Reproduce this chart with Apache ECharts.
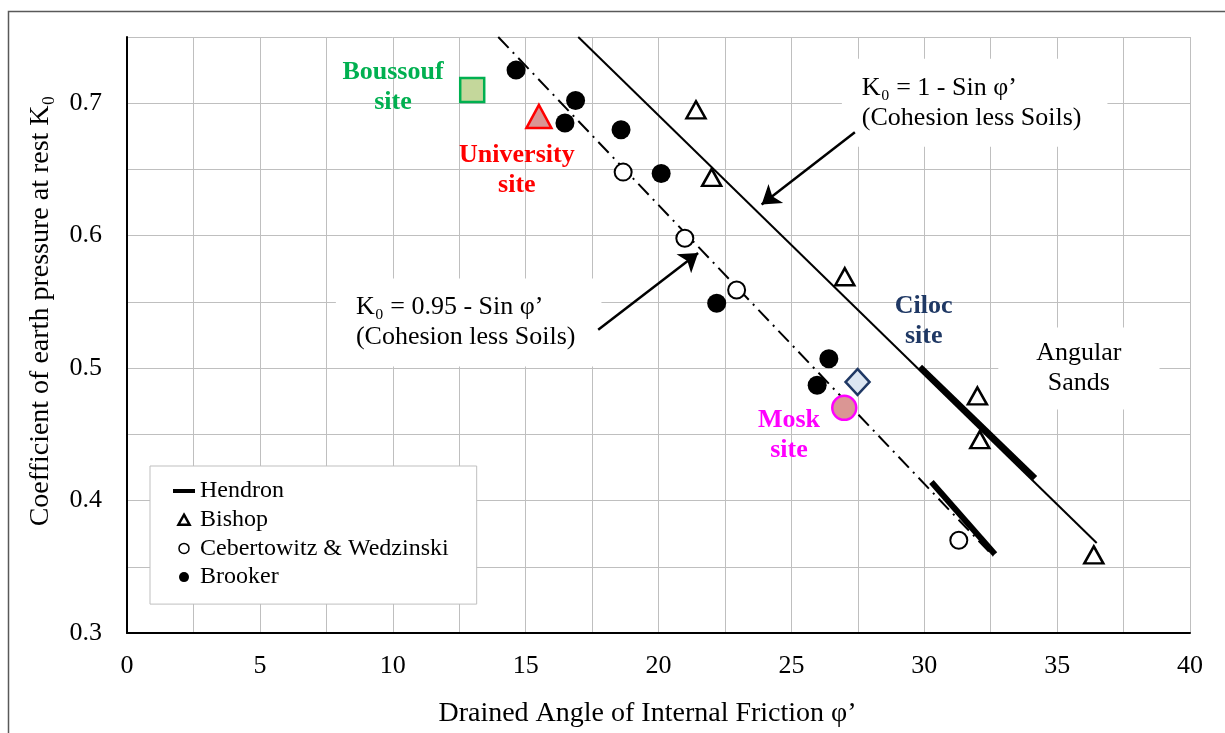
<!DOCTYPE html>
<html>
<head>
<meta charset="utf-8">
<script src="https://cdn.jsdelivr.net/npm/echarts@6/dist/echarts.min.js"></script>
<style>
  html, body { margin: 0; padding: 0; background: #fff; }
  #chart { width: 1225px; height: 733px; }
</style>
</head>
<body>
<div id="chart"></div>
<script>
// ---- Data (phi in degrees, K0) ----
const bishop = [[21.41, 0.695], [22.0, 0.644], [27.01, 0.569], [32.0, 0.479], [32.09, 0.446], [36.38, 0.359]];
const cebertowitz = [[18.67, 0.648], [20.99, 0.598], [22.94, 0.559], [31.30, 0.370]];
const brooker = [[14.64, 0.725], [16.88, 0.702], [16.48, 0.685], [18.59, 0.680], [20.10, 0.647], [22.19, 0.549], [26.41, 0.507], [25.97, 0.487]];
const hendronA = [[29.84, 0.501], [34.17, 0.417]];
const hendronB = [[30.27, 0.414], [32.66, 0.3595]];
const lineK1 = [[16.98, 0.75], [36.49, 0.368]];      // K0 = 1 - sin phi'
const lineK095 = [[13.97, 0.75], [32.6, 0.358]];     // K0 = 0.95 - sin phi'
const siteBoussouf = [[12.99, 0.710]];
const siteUniversity = [[15.5, 0.690]];
const siteCiloc = [[27.49, 0.4895]];
const siteMosk = [[26.99, 0.470]];
const arrowK1 = [[27.39, 0.678], [23.88, 0.6235]];
const arrowK095 = [[17.73, 0.529], [21.49, 0.587]];
// annotation anchors (data coords) and texts
const siteLabels = [
  { name: 'Boussouf\nsite', value: [10.01, 0.7117], color: '#00B050' },
  { name: 'University\nsite', value: [14.67, 0.649], color: '#FF0000' },
  { name: 'Ciloc\nsite', value: [29.98, 0.5353], color: '#1F3864' },
  { name: 'Mosk\nsite', value: [24.91, 0.4493], color: '#FF00FF' }
];
const boxLabels = [
  { name: 'K₀ = 1 - Sin φ’\n(Cohesion less Soils)', value: [26.90, 0.7004] },
  { name: 'K₀ = 0.95 - Sin φ’\n(Cohesion less Soils)', value: [7.86, 0.5345] }
];
const angularLabel = [{ name: 'Angular\nSands', value: [35.82, 0.4998] }];
const xTicks = [0, 5, 10, 15, 20, 25, 30, 35, 40];
const yTicks = [0.3, 0.4, 0.5, 0.6, 0.7];

const FONT = '"Liberation Serif", "Times New Roman", serif';

const chart = echarts.init(document.getElementById('chart'), null, { renderer: 'canvas' });

const option = {
  backgroundColor: '#fff',
  animation: false,
  textStyle: { fontFamily: FONT, color: '#000' },
  graphic: [{
    type: 'rect', left: 6, top: 9, z: 100, silent: true,
    shape: { width: 1240, height: 740 },
    style: { fill: 'none', stroke: '#595959', lineWidth: 1.5 }
  }],
  grid: { left: 127, right: 35, top: 37, bottom: 99, show: false },
  legend: {
    orient: 'vertical',
    left: 150, top: 466,
    backgroundColor: '#fff',
    borderColor: '#BFBFBF', borderWidth: 1,
    padding: [13, 28, 15, 23],
    itemWidth: 22, itemHeight: 10, itemGap: 4.7,
    textStyle: { fontFamily: FONT, fontSize: 24, color: '#000' },
    data: [
      { name: 'Hendron', icon: 'path://M0,0 L22,0 L22,4 L0,4 Z' },
      { name: 'Bishop', icon: 'path://M5,0 L10,9 L0,9 Z', itemStyle: { borderWidth: 2.5 } },
      { name: 'Cebertowitz & Wedzinski', icon: 'circle', itemStyle: { borderWidth: 1.5 } },
      { name: 'Brooker', icon: 'circle' }
    ],
    z: 20
  },
  xAxis: {
    type: 'value', min: 0, max: 40, interval: 2.5,
    name: 'Drained Angle of Internal Friction φ’',
    nameLocation: 'middle', nameGap: 67,
    nameTextStyle: { fontFamily: FONT, fontSize: 28, color: '#000', padding: [0, 22, 0, 0] },
    axisLine: { show: true, onZero: false, lineStyle: { color: '#000', width: 2 } },
    axisTick: { show: false },
    axisLabel: {
      fontFamily: FONT, fontSize: 26, color: '#000', margin: 20,
      formatter: v => (xTicks.indexOf(v) >= 0 ? String(v) : '')
    },
    splitLine: { show: true, lineStyle: { color: '#BFBFBF', width: 1 } }
  },
  yAxis: {
    type: 'value', min: 0.3, max: 0.75, interval: 0.05,
    name: 'Coefficient of earth pressure at rest K₀',
    nameLocation: 'middle', nameGap: 72,
    nameTextStyle: { fontFamily: FONT, fontSize: 28, color: '#000', padding: [0, 0, 0, 48] },
    axisLine: { show: true, onZero: false, lineStyle: { color: '#000', width: 2 } },
    axisTick: { show: false },
    axisLabel: {
      fontFamily: FONT, fontSize: 26, color: '#000', margin: 25,
      formatter: v => (yTicks.some(t => Math.abs(t - v) < 1e-6) ? v.toFixed(1) : '')
    },
    splitLine: { show: true, lineStyle: { color: '#BFBFBF', width: 1 } }
  },
  series: [
    {
      name: 'K1', type: 'line', data: lineK1, symbol: 'none', z: 3,
      lineStyle: { color: '#000', width: 2 }
    },
    {
      name: 'K095', type: 'line', data: lineK095, symbol: 'none', z: 3,
      lineStyle: { color: '#000', width: 2, type: [15, 6, 2, 6] }
    },
    {
      name: 'Hendron', type: 'line', data: hendronA, symbol: 'none', z: 4,
      color: '#000', lineStyle: { color: '#000', width: 6 }
    },
    {
      name: 'Hendron', type: 'line', data: hendronB, symbol: 'none', z: 4,
      color: '#000', lineStyle: { color: '#000', width: 6 }
    },
    {
      name: 'Bishop', type: 'scatter', data: bishop, symbol: 'triangle', symbolSize: [19, 17], z: 5,
      itemStyle: { color: '#fff', borderColor: '#000', borderWidth: 2.5, opacity: 1 }
    },
    {
      name: 'Cebertowitz & Wedzinski', type: 'scatter', data: cebertowitz, symbol: 'circle', symbolSize: 17, z: 5,
      itemStyle: { color: '#fff', borderColor: '#000', borderWidth: 2, opacity: 1 }
    },
    {
      name: 'Brooker', type: 'scatter', data: brooker, symbol: 'circle', symbolSize: 19, z: 5,
      itemStyle: { color: '#000', opacity: 1 }
    },
    {
      name: 'Boussouf site', type: 'scatter', data: siteBoussouf, symbol: 'rect', symbolSize: 24, z: 6,
      itemStyle: { color: '#C4D79B', borderColor: '#00B050', borderWidth: 2.5, opacity: 1 }
    },
    {
      name: 'University site', type: 'scatter', data: siteUniversity, symbol: 'triangle', symbolSize: [25, 23], z: 6,
      itemStyle: { color: '#DA9694', borderColor: '#FF0000', borderWidth: 2.5, opacity: 1 }
    },
    {
      name: 'Ciloc site', type: 'scatter', data: siteCiloc, symbol: 'diamond', symbolSize: [24, 26], z: 6,
      itemStyle: { color: '#DCE6F2', borderColor: '#1F3864', borderWidth: 2.5, opacity: 1 }
    },
    {
      name: 'Mosk site', type: 'scatter', data: siteMosk, symbol: 'circle', symbolSize: 24, z: 6,
      itemStyle: { color: '#DA9694', borderColor: '#FF00FF', borderWidth: 2.5, opacity: 1 }
    },
    {
      name: 'arrows', type: 'lines', coordinateSystem: 'cartesian2d', z: 7,
      symbol: ['none', 'arrow'], symbolSize: 18,
      lineStyle: { color: '#000', width: 2.5, opacity: 1 },
      data: [{ coords: arrowK1 }, { coords: arrowK095 }]
    },
    {
      name: 'siteLabels', type: 'scatter', symbolSize: 0, z: 8, silent: true,
      itemStyle: { opacity: 1 },
      data: siteLabels.map(d => ({
        name: d.name, value: d.value,
        label: { color: d.color }
      })),
      label: {
        show: true, position: 'inside', formatter: p => p.name,
        fontFamily: FONT, fontSize: 26, fontWeight: 'bold', lineHeight: 30, align: 'center', verticalAlign: 'middle'
      }
    },
    {
      name: 'boxLabels', type: 'scatter', symbolSize: 0, z: 2, silent: true,
      itemStyle: { opacity: 1 },
      data: boxLabels,
      label: {
        show: true, position: 'inside', formatter: p => p.name,
        fontFamily: FONT, fontSize: 26, color: '#000', lineHeight: 30,
        align: 'left', verticalAlign: 'middle',
        backgroundColor: '#fff', padding: [14, 26, 14, 20]
      }
    },
    {
      name: 'angular', type: 'scatter', symbolSize: 0, z: 2, silent: true,
      itemStyle: { opacity: 1 },
      data: angularLabel,
      label: {
        show: true, position: 'inside', formatter: p => p.name,
        fontFamily: FONT, fontSize: 26, color: '#000', lineHeight: 30,
        align: 'center', verticalAlign: 'middle',
        backgroundColor: '#fff', padding: [12, 38, 10, 38]
      }
    }
  ]
};
chart.setOption(option);
</script>
</body>
</html>
